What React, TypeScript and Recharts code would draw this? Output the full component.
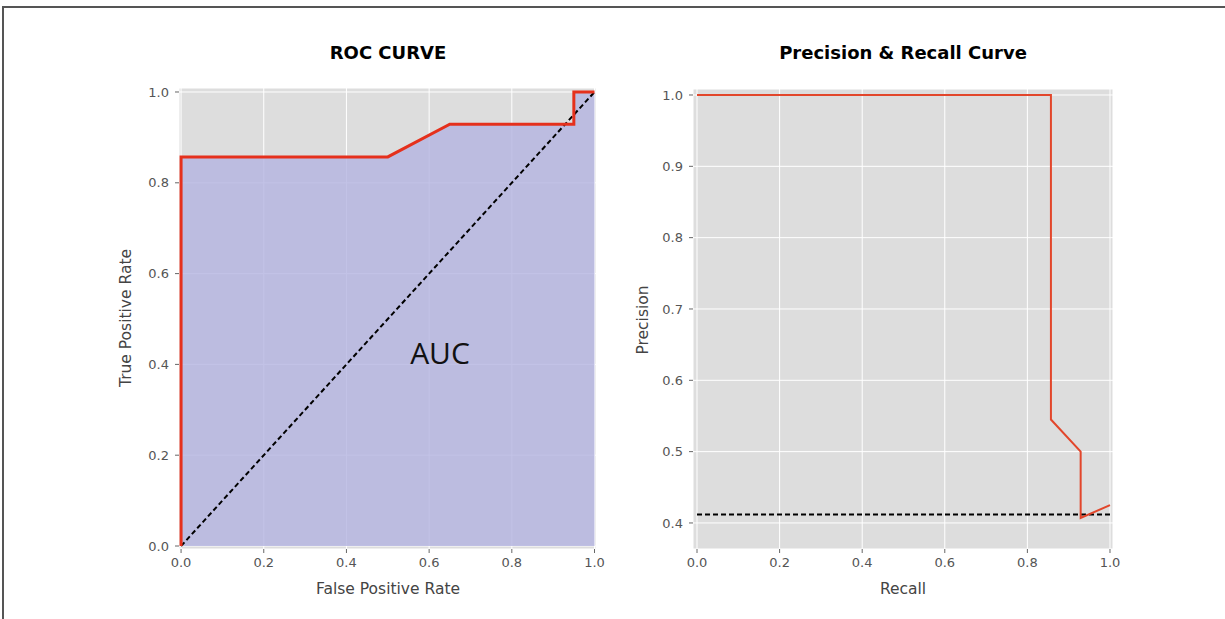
import React from "react";
import {
  ComposedChart,
  Line,
  Area,
  XAxis,
  YAxis,
  CartesianGrid,
} from "recharts";

// ROC curve points
const rocFpr = [0, 0, 0.5, 0.65, 0.95, 0.95, 1.0];
const rocTpr = [0, 0.857, 0.857, 0.929, 0.929, 1.0, 1.0];
// chance diagonal
const chanceX = [0, 1];
const chanceY = [0, 1];

// Precision / recall points
const prRecall = [0, 0.857, 0.857, 0.929, 0.929, 1.0];
const prPrecision = [1.0, 1.0, 0.545, 0.5, 0.407, 0.425];
// no-skill baseline
const baseX = [0, 1];
const baseY = [0.412, 0.412];

const rocTicks = [0, 0.2, 0.4, 0.6, 0.8, 1.0];
const prXTicks = [0, 0.2, 0.4, 0.6, 0.8, 1.0];
const prYTicks = [0.4, 0.5, 0.6, 0.7, 0.8, 0.9, 1.0];

const rocData = rocFpr.map((x, i) => ({ x, y: rocTpr[i] }));
const chanceData = chanceX.map((x, i) => ({ x, y: chanceY[i] }));
const prData = prRecall.map((x, i) => ({ x, y: prPrecision[i] }));
const baseData = baseX.map((x, i) => ({ x, y: baseY[i] }));

const FONT = "'DejaVu Sans', sans-serif";
const TICK = { fill: "#555", fontSize: 13, fontFamily: FONT };
const fmt = (v: number) => v.toFixed(1);

const txt = (
  s: string,
  cx: number,
  cy: number,
  style: React.CSSProperties,
  rotate = false
) => (
  <div
    style={{
      position: "absolute",
      left: cx,
      top: cy,
      transform: `translate(-50%, -50%)${rotate ? " rotate(-90deg)" : ""}`,
      whiteSpace: "nowrap",
      fontFamily: FONT,
      lineHeight: 1,
      ...style,
    }}
  >
    {s}
  </div>
);

export default function App() {
  const title = { fontSize: 18, fontWeight: 700, color: "#000" };
  const label = { fontSize: 15.5, color: "#444" };
  return (
    <div
      style={{
        position: "absolute",
        left: 0,
        top: 0,
        width: 1225,
        height: 619,
        overflow: "hidden",
        background: "#fff",
      }}
    >
      <div
        style={{
          position: "absolute",
          left: 2,
          top: 6,
          width: 1240,
          height: 640,
          borderTop: "2px solid #555",
          borderLeft: "2px solid #555",
        }}
      />
      <div style={{ position: "absolute", left: 0, top: 0 }}>
        <ComposedChart
          width={620}
          height={619}
          margin={{ top: 88, right: 24, bottom: 40, left: 119 }}
        >
          <CartesianGrid
            stroke="#fff"
            strokeWidth={1}
            fill="#dddddd"
            fillOpacity={1}
          />
          <XAxis
            type="number"
            dataKey="x"
            domain={[-0.005, 1.0036]}
            ticks={rocTicks}
            tickFormatter={fmt}
            axisLine={false}
            tickLine={{ stroke: "#666" }}
            tickSize={4}
            tickMargin={5}
            tick={TICK}
            height={30}
            allowDataOverflow
          />
          <YAxis
            type="number"
            dataKey="y"
            domain={[-0.0066, 1.0088]}
            ticks={rocTicks}
            tickFormatter={fmt}
            axisLine={false}
            tickLine={{ stroke: "#666" }}
            tickSize={4}
            tickMargin={6}
            tick={TICK}
            width={60}
            allowDataOverflow
          />
          <Area
            data={rocData}
            dataKey="y"
            type="linear"
            stroke="none"
            fill="#b4b4e1"
            fillOpacity={0.82}
            isAnimationActive={false}
          />
          <Line
            data={chanceData}
            dataKey="y"
            type="linear"
            stroke="#000"
            strokeWidth={2}
            strokeDasharray="5 3"
            dot={false}
            isAnimationActive={false}
          />
          <Line
            data={rocData}
            dataKey="y"
            type="linear"
            stroke="#e5301c"
            strokeWidth={3}
            dot={false}
            isAnimationActive={false}
          />
        </ComposedChart>
      </div>
      <div style={{ position: "absolute", left: 620, top: 0 }}>
        <ComposedChart
          width={605}
          height={619}
          margin={{ top: 89, right: 112, bottom: 40, left: 13 }}
        >
          <CartesianGrid
            stroke="#fff"
            strokeWidth={1}
            fill="#dddddd"
            fillOpacity={1}
          />
          <XAxis
            type="number"
            dataKey="x"
            domain={[-0.0097, 1.0073]}
            ticks={prXTicks}
            tickFormatter={fmt}
            axisLine={false}
            tickLine={{ stroke: "#666" }}
            tickSize={4}
            tickMargin={5}
            tick={TICK}
            height={30}
            allowDataOverflow
          />
          <YAxis
            type="number"
            dataKey="y"
            domain={[0.3635, 1.0084]}
            ticks={prYTicks}
            tickFormatter={fmt}
            axisLine={false}
            tickLine={{ stroke: "#666" }}
            tickSize={4}
            tickMargin={6}
            tick={TICK}
            width={60}
            allowDataOverflow
          />
          <Line
            data={baseData}
            dataKey="y"
            type="linear"
            stroke="#000"
            strokeWidth={2}
            strokeDasharray="5 3"
            dot={false}
            isAnimationActive={false}
          />
          <Line
            data={prData}
            dataKey="y"
            type="linear"
            stroke="#e2462b"
            strokeWidth={2}
            dot={false}
            isAnimationActive={false}
          />
        </ComposedChart>
      </div>
      {txt("ROC CURVE", 388, 53, title)}
      {txt("Precision & Recall Curve", 903, 53, title)}
      {txt("False Positive Rate", 388, 590, label)}
      {txt("Recall", 903, 590, label)}
      {txt("True Positive Rate", 127, 318, label, true)}
      {txt("Precision", 644, 320, label, true)}
      {txt("AUC", 440, 353, {
        fontSize: 30,
        color: "#111",
        fontFamily: "'Open Sans', sans-serif",
      })}
    </div>
  );
}
